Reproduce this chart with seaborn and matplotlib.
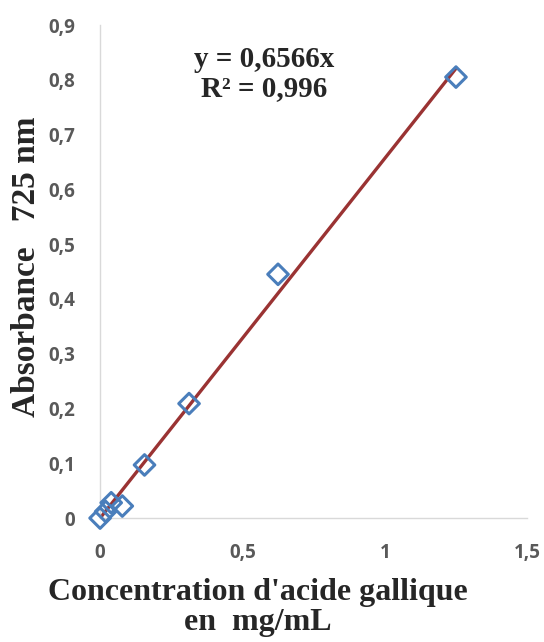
import matplotlib
matplotlib.use("Agg")
import matplotlib.pyplot as plt
import numpy as np
import pandas as pd
import seaborn as sns
from matplotlib.ticker import FuncFormatter

# concentration (mg/mL) and absorbance at 725 nm
concentration = [0, 0.0195, 0.039, 0.078, 0.156, 0.3125, 0.625, 1.25]
absorbance = [0, 0.012, 0.028, 0.022, 0.097, 0.209, 0.445, 0.805]
slope = 0.6566
equation = "y = 0,6566x\nR² = 0,996"

df = pd.DataFrame({"conc": concentration, "abs": absorbance})

sns.set_style("white")
plt.rcParams['font.family'] = ['Open Sans', 'DejaVu Sans']

fig = plt.figure(figsize=(5.44, 6.42), dpi=100)
ax = fig.add_axes([0.184, 0.193, 0.785, 0.768])

# trendline through origin
x_fit = np.array([0, max(concentration)])
sns.lineplot(x=x_fit, y=slope * x_fit, ax=ax, color='#9A3333', lw=2.4, zorder=2)
sns.scatterplot(data=df, x="conc", y="abs", ax=ax, marker='D', s=110,
                facecolor='none', edgecolor='#4A7EBB', linewidth=2.2, zorder=3,
                clip_on=False)

ax.set_xlim(0, 1.5)
ax.set_ylim(0, 0.9)
ax.set_xticks([0, 0.5, 1, 1.5])
ax.set_yticks(np.arange(0, 0.91, 0.1))
fmt = FuncFormatter(lambda v, p: ('%g' % round(v, 2)).replace('.', ','))
ax.xaxis.set_major_formatter(fmt)
ax.yaxis.set_major_formatter(fmt)
ax.tick_params(axis='both', length=0, labelsize=13.5, labelcolor='#595959')
ax.tick_params(axis='x', pad=18)
ax.tick_params(axis='y', pad=18)
for lab in ax.get_xticklabels() + ax.get_yticklabels():
    lab.set_fontweight('bold')

for s in ['top', 'right']:
    ax.spines[s].set_visible(False)
for s in ['left', 'bottom']:
    ax.spines[s].set_color('#D9D9D9')
    ax.spines[s].set_linewidth(1)

serif = {'family': ['Liberation Serif', 'DejaVu Serif'], 'weight': 'bold'}
ax.set_xlabel("Concentration d'acide gallique\nen  mg/mL", fontdict=serif, fontsize=23,
              linespacing=1.05)
ax.xaxis.set_label_coords(0.37, -0.122)
ax.xaxis.label.set_va('top')
ax.set_ylabel("Absorbance   725 nm", fontdict=serif, fontsize=24)
ax.yaxis.set_label_coords(-0.173, 0.51)
ax.yaxis.label.set_va('center')
ax.text(0.384, 0.90, equation, transform=ax.transAxes, ha='center', va='center',
        fontdict=serif, fontsize=21, linespacing=1.1)

plt.savefig("out.png", dpi=100)
